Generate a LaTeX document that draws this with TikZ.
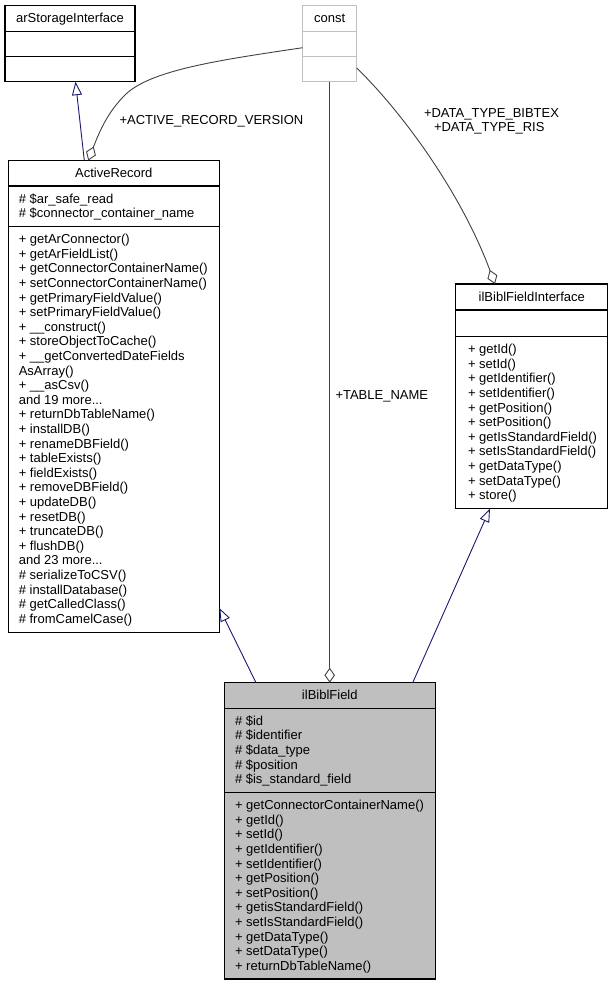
\documentclass[tikz,border=0pt]{standalone}
\usepackage{fontspec}
\setmainfont{Liberation Sans}
\usetikzlibrary{arrows.meta,calc}
\definecolor{edgeblue}{HTML}{191970}
\definecolor{usegray}{HTML}{404040}
\definecolor{constgray}{HTML}{BFBFBF}
\definecolor{fieldfill}{HTML}{BFBFBF}
\newcommand\mydots{...}
\begin{document}
\begin{tikzpicture}[x=1pt,y=-1pt,
  cls/.style={draw=black, line width=1.1pt, fill=white, inner sep=0pt, outer sep=0pt, anchor=north west},
  div/.style={draw=black, line width=1.1pt},
  txt/.style={anchor=base west, inner sep=0pt, outer sep=0pt, font=\fontsize{13}{14.6}\selectfont},
  ttl/.style={anchor=base, inner sep=0pt, outer sep=0pt, font=\fontsize{13}{14.6}\selectfont},
  inh/.style={draw=edgeblue, line width=0.9pt, -{Triangle[open,length=13.5pt,width=10pt]}},
  agg/.style={draw=usegray, line width=0.9pt, -{Diamond[open,length=15pt,width=10.5pt]}}]
\useasboundingbox (0,0) rectangle (612,985);

% arStorageInterface
\node[cls, minimum width=130pt, minimum height=76pt] (arsi) at (5,5.7) {};
\draw[div] ($(arsi.north west)+(0,26)$) -- ($(arsi.north east)+(0,26)$);
\draw[div] ($(arsi.north west)+(0,51)$) -- ($(arsi.north east)+(0,51)$);
\node[ttl] (arsi-t) at (70,22.7) {arStorageInterface};

% const
\node[cls, draw=constgray, minimum width=54pt, minimum height=76pt] (const) at (302.7,5.7) {};
\draw[div, draw=constgray] ($(const.north west)+(0,26)$) -- ($(const.north east)+(0,26)$);
\draw[div, draw=constgray] ($(const.north west)+(0,51)$) -- ($(const.north east)+(0,51)$);
\node[ttl] (const-t) at (329.7,22.7) {const};

% ActiveRecord
\node[cls, minimum width=211pt, minimum height=471.7pt] (ar) at (8.3,160.5) {};
\draw[div] ($(ar.north west)+(0,25.5)$) -- ($(ar.north east)+(0,25.5)$);
\draw[div] ($(ar.north west)+(0,66.1)$) -- ($(ar.north east)+(0,66.1)$);
\node[ttl] (ar-t) at (113.8,177.5) {ActiveRecord};
\foreach \t [count=\i from 0] in {\# \$ar\_safe\_read, \# \$connector\_container\_name}
  \node[txt] (ar-a\i) at (18.8,{203+14.6*\i}) {\t};
\foreach \t [count=\i from 0] in {%
  + getArConnector(), + getArFieldList(), + getConnectorContainerName(),
  + setConnectorContainerName(), + getPrimaryFieldValue(), + setPrimaryFieldValue(),
  + \_\_construct(), + storeObjectToCache(), + \_\_getConvertedDateFields,
  AsArray(), + \_\_asCsv(), and 19 more\mydots, + returnDbTableName(), + installDB(),
  + renameDBField(), + tableExists(), + fieldExists(), + removeDBField(),
  + updateDB(), + resetDB(), + truncateDB(), + flushDB(), and 23 more\mydots,
  \# serializeToCSV(), \# installDatabase(), \# getCalledClass(), \# fromCamelCase()}
  \node[txt] (ar-m\i) at (18.8,{243.6+14.6*\i}) {\t};

% ilBiblFieldInterface
\node[cls, minimum width=152pt, minimum height=224.5pt] (iface) at (455.7,284) {};
\draw[div] ($(iface.north west)+(0,26)$) -- ($(iface.north east)+(0,26)$);
\draw[div] ($(iface.north west)+(0,52.7)$) -- ($(iface.north east)+(0,52.7)$);
\node[ttl] (iface-t) at (531.8,301) {ilBiblFieldInterface};
\foreach \t [count=\i from 0] in {%
  + getId(), + setId(), + getIdentifier(), + setIdentifier(), + getPosition(),
  + setPosition(), + getIsStandardField(), + setIsStandardField(),
  + getDataType(), + setDataType(), + store()}
  \node[txt] (iface-m\i) at (468,{353.7+14.6*\i}) {\t};

% ilBiblField
\node[cls, fill=fieldfill, minimum width=211pt, minimum height=296.3pt] (field) at (224.3,682.7) {};
\draw[div] ($(field.north west)+(0,25.6)$) -- ($(field.north east)+(0,25.6)$);
\draw[div] ($(field.north west)+(0,110)$) -- ($(field.north east)+(0,110)$);
\node[ttl] (field-t) at (329.8,699.7) {ilBiblField};
\foreach \t [count=\i from 0] in {%
  \# \$id, \# \$identifier, \# \$data\_type, \# \$position, \# \$is\_standard\_field}
  \node[txt] (field-a\i) at (235,{725.3+14.6*\i}) {\t};
\foreach \t [count=\i from 0] in {%
  + getConnectorContainerName(), + getId(), + setId(), + getIdentifier(),
  + setIdentifier(), + getPosition(), + setPosition(), + getisStandardField(),
  + setIsStandardField(), + getDataType(), + setDataType(), + returnDbTableName()}
  \node[txt] (field-m\i) at (235,{809.7+14.6*\i}) {\t};

% inheritance connectors
\draw[inh] ($(ar.north west)+(76,0)$) -- ($(arsi.south west)+(70.5,0)$);
\draw[inh] ($(field.north west)+(31.7,0)$) -- ($(ar.north east)+(0,447.5)$);
\draw[inh] ($(field.north west)+(188.4,0)$) -- ($(iface.south west)+(34.3,0)$);

% aggregation connectors
\draw[agg] ($(const.north west)+(0,42)$) .. controls (220,60) and (150,70) .. (125,95)
  .. controls (108,112) and (100,130) .. ($(ar.north west)+(80,0)$);
\node[txt] (lbl-arv) at (119.5,124.8) {+ACTIVE\_RECORD\_VERSION};

\draw[agg] (const.south) -- (const.south |- field.north);
\node[txt] (lbl-tn) at (335.5,399.8) {+TABLE\_NAME};

\draw[agg] ($(const.north east)+(0,62.3)$) .. controls (400,110) and (460,190) .. ($(iface.north west)+(39.3,0)$);
\node[txt] (lbl-bib) at (424,117.8) {+DATA\_TYPE\_BIBTEX};
\node[txt] (lbl-ris) at (434,131.8) {+DATA\_TYPE\_RIS};
\end{tikzpicture}
\end{document}
